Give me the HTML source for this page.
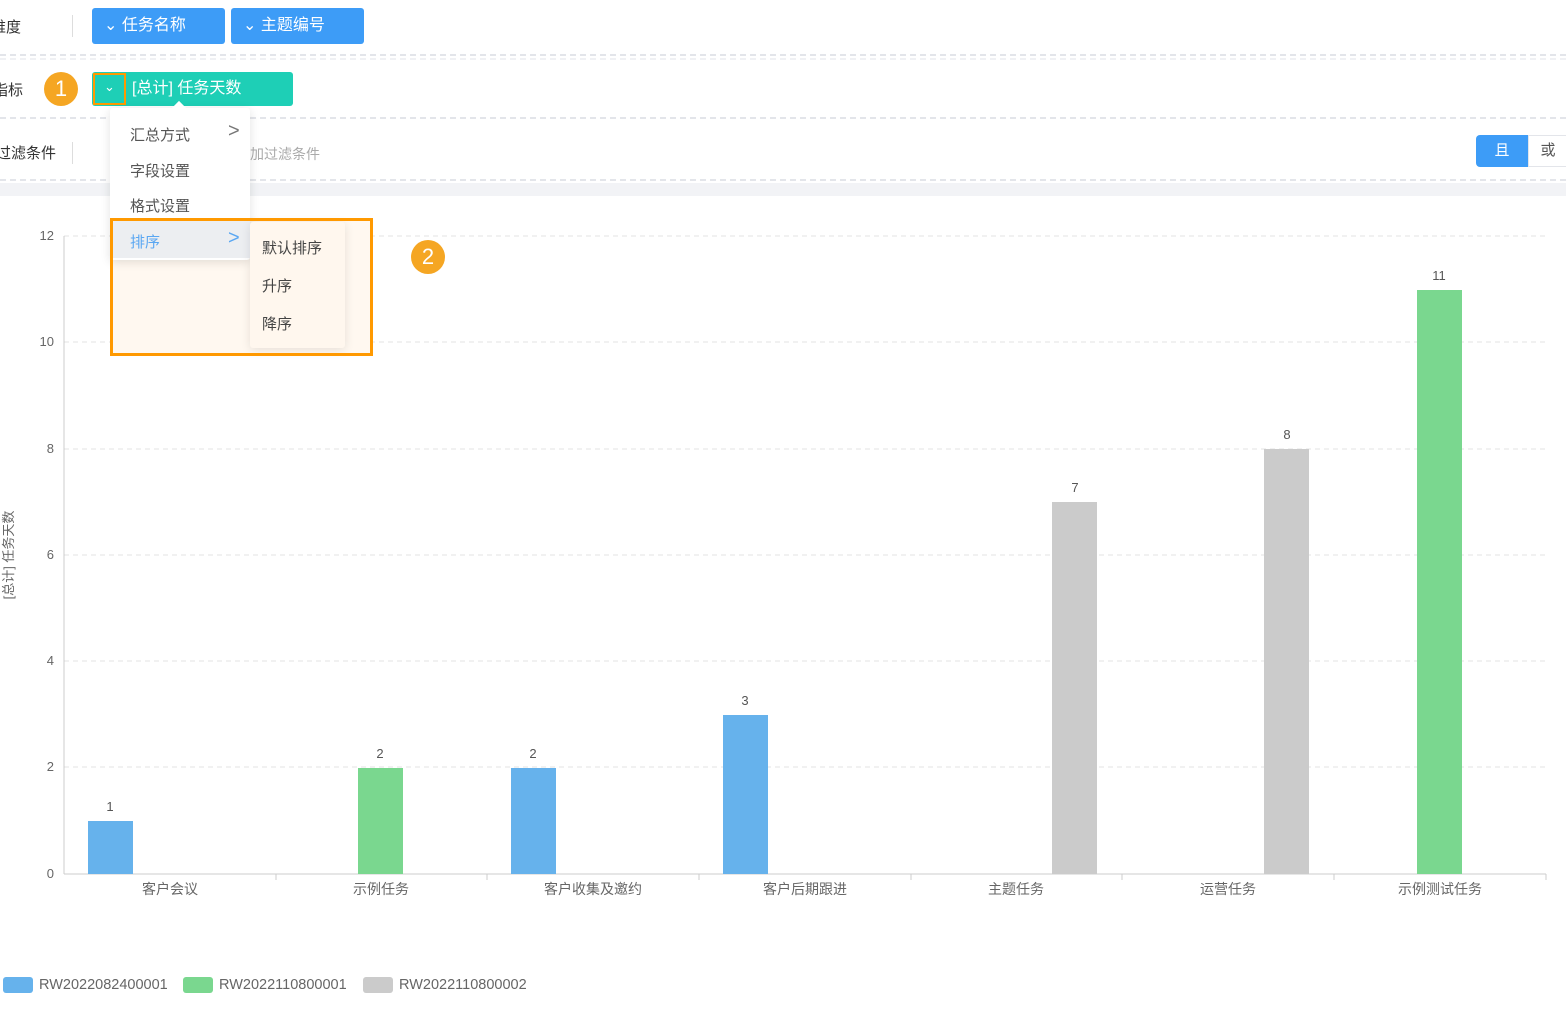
<!DOCTYPE html>
<html><head><meta charset="utf-8"><style>
body{margin:0;width:1566px;height:1011px;position:relative;overflow:hidden;background:#fff;font-family:"Liberation Sans","Noto Sans CJK SC",sans-serif;}
.a{position:absolute;white-space:nowrap}
.dash{position:absolute;left:0;width:1566px;border-top:2px dashed #e3e5ea}
</style></head><body>
<div class="a" style="left:-9px;top:16px;font-size:15px;color:#333">维度</div>
<div class="a" style="left:72px;top:15px;width:1px;height:22px;background:#ddd"></div>
<div class="a" style="left:92px;top:8px;width:133px;height:36px;background:#3d9cf7;border-radius:3px;color:#fff;font-size:16px;line-height:36px;text-indent:12px">⌄ 任务名称</div>
<div class="a" style="left:231px;top:8px;width:133px;height:36px;background:#3d9cf7;border-radius:3px;color:#fff;font-size:16px;line-height:36px;text-indent:12px">⌄ 主题编号</div>
<div class="dash" style="top:54px"></div>
<div class="dash" style="top:58px;border-color:#f0f1f4"></div>
<div class="a" style="left:-7px;top:79px;font-size:15px;color:#333">指标</div>
<div class="a" style="left:44px;top:72px;width:34px;height:34px;border-radius:50%;background:#f5a623;color:#fff;font-size:22px;line-height:34px;text-align:center">1</div>
<div class="a" style="left:92px;top:72px;width:201px;height:34px;background:#1ecfb6;border-radius:3px;color:#fff;font-size:16px;line-height:34px;text-indent:40px">[总计] 任务天数</div>
<div class="a" style="left:93px;top:73px;width:33px;height:32px;border:2px solid #f90;box-sizing:border-box;color:#fff;text-align:center;line-height:24px;font-size:13px">⌄</div>
<div class="dash" style="top:117px"></div>
<div class="a" style="left:-4px;top:142px;font-size:15px;color:#333">过滤条件</div>
<div class="a" style="left:72px;top:142px;width:1px;height:22px;background:#ddd"></div>
<div class="a" style="left:250px;top:144px;font-size:14px;color:#aaa">加过滤条件</div>
<div class="a" style="left:1476px;top:135px;width:52px;height:32px;background:#3d9cf7;border-radius:4px 0 0 4px;color:#fff;text-align:center;line-height:32px;font-size:15px">且</div>
<div class="a" style="left:1528px;top:135px;width:40px;height:32px;border:1px solid #e3e5ea;box-sizing:border-box;color:#555;text-align:center;line-height:30px;font-size:15px">或</div>
<div class="dash" style="top:179px"></div>
<div class="a" style="left:0;top:183px;width:1566px;height:13px;background:#f2f3f6"></div>

<svg class="a" style="left:0;top:0" width="1566" height="1011" font-family="Liberation Sans,Noto Sans CJK SC,sans-serif">
<g stroke="#e3e3e3" stroke-dasharray="5,4">
<line x1="64" x2="1546" y1="236" y2="236"/><line x1="64" x2="1546" y1="342" y2="342"/><line x1="64" x2="1546" y1="449" y2="449"/><line x1="64" x2="1546" y1="555" y2="555"/><line x1="64" x2="1546" y1="661" y2="661"/><line x1="64" x2="1546" y1="767" y2="767"/>
</g>
<line x1="64" x2="1546" y1="874" y2="874" stroke="#ccc"/>
<line x1="64" x2="64" y1="236" y2="874" stroke="#ccc"/>
<g stroke="#ccc"><line x1="276" x2="276" y1="874" y2="880"/><line x1="487" x2="487" y1="874" y2="880"/><line x1="699" x2="699" y1="874" y2="880"/><line x1="911" x2="911" y1="874" y2="880"/><line x1="1122" x2="1122" y1="874" y2="880"/><line x1="1334" x2="1334" y1="874" y2="880"/><line x1="1546" x2="1546" y1="874" y2="880"/></g>
<g font-size="13" fill="#666" text-anchor="end">
<text x="54" y="240">12</text><text x="54" y="346">10</text><text x="54" y="453">8</text><text x="54" y="559">6</text><text x="54" y="665">4</text><text x="54" y="771">2</text><text x="54" y="878">0</text></g>
<text transform="translate(13,555) rotate(-90)" font-size="13" fill="#666" text-anchor="middle">[总计] 任务天数</text>
<rect x="88" y="821" width="45" height="53" fill="#66b2ec"/>
<rect x="358" y="768" width="45" height="106" fill="#7ad78f"/>
<rect x="511" y="768" width="45" height="106" fill="#66b2ec"/>
<rect x="723" y="715" width="45" height="159" fill="#66b2ec"/>
<rect x="1052" y="502" width="45" height="372" fill="#cbcbcb"/>
<rect x="1264" y="449" width="45" height="425" fill="#cbcbcb"/>
<rect x="1417" y="290" width="45" height="584" fill="#7ad78f"/>
<g font-size="13" fill="#555" text-anchor="middle">
<text x="110" y="811">1</text><text x="380" y="758">2</text><text x="533" y="758">2</text><text x="745" y="705">3</text><text x="1075" y="492">7</text><text x="1287" y="439">8</text><text x="1439" y="280">11</text></g>
<g font-size="14" fill="#666" text-anchor="middle">
<text x="170" y="894">客户会议</text><text x="381" y="894">示例任务</text><text x="593" y="894">客户收集及邀约</text><text x="805" y="894">客户后期跟进</text><text x="1016" y="894">主题任务</text><text x="1228" y="894">运营任务</text><text x="1440" y="894">示例测试任务</text></g>
<rect x="3" y="977" width="30" height="16" rx="3" fill="#66b2ec"/><text x="39" y="989" font-size="14.5" fill="#666">RW2022082400001</text>
<rect x="183" y="977" width="30" height="16" rx="3" fill="#7ad78f"/><text x="219" y="989" font-size="14.5" fill="#666">RW2022110800001</text>
<rect x="363" y="977" width="30" height="16" rx="3" fill="#cbcbcb"/><text x="399" y="989" font-size="14.5" fill="#666">RW2022110800002</text>
</svg>

<div class="a" style="left:111px;top:220px;width:260px;height:134px;background:#fff8f0"></div>
<div class="a" style="left:110px;top:108px;width:140px;height:152px;background:#fff;box-shadow:0 2px 10px rgba(0,0,0,.12);border-radius:3px"></div>
<div class="a" style="left:174px;top:103px;width:10px;height:10px;background:#fff;transform:rotate(45deg)"></div>
<div class="a" style="left:130px;top:124px;font-size:15px;color:#555">汇总方式</div>
<div class="a" style="left:228px;top:120px;font-size:20px;color:#777">&gt;</div>
<div class="a" style="left:130px;top:160px;font-size:15px;color:#555">字段设置</div>
<div class="a" style="left:130px;top:195px;font-size:15px;color:#555">格式设置</div>
<div class="a" style="left:113px;top:221px;width:137px;height:37px;background:#eceef1"></div>
<div class="a" style="left:130px;top:231px;font-size:15px;color:#5aa7f2">排序</div>
<div class="a" style="left:228px;top:227px;font-size:20px;color:#5aa7f2">&gt;</div>
<div class="a" style="left:250px;top:222px;width:95px;height:126px;background:#fff7ee;box-shadow:0 2px 10px rgba(0,0,0,.1);border-radius:3px"></div>
<div class="a" style="left:262px;top:237px;font-size:15px;color:#444">默认排序</div>
<div class="a" style="left:262px;top:275px;font-size:15px;color:#444">升序</div>
<div class="a" style="left:262px;top:313px;font-size:15px;color:#444">降序</div>
<div class="a" style="left:110px;top:218px;width:263px;height:138px;border:3px solid #f90;box-sizing:border-box"></div>
<div class="a" style="left:411px;top:240px;width:34px;height:34px;border-radius:50%;background:#f5a623;color:#fff;font-size:22px;line-height:34px;text-align:center">2</div>
</body></html>
